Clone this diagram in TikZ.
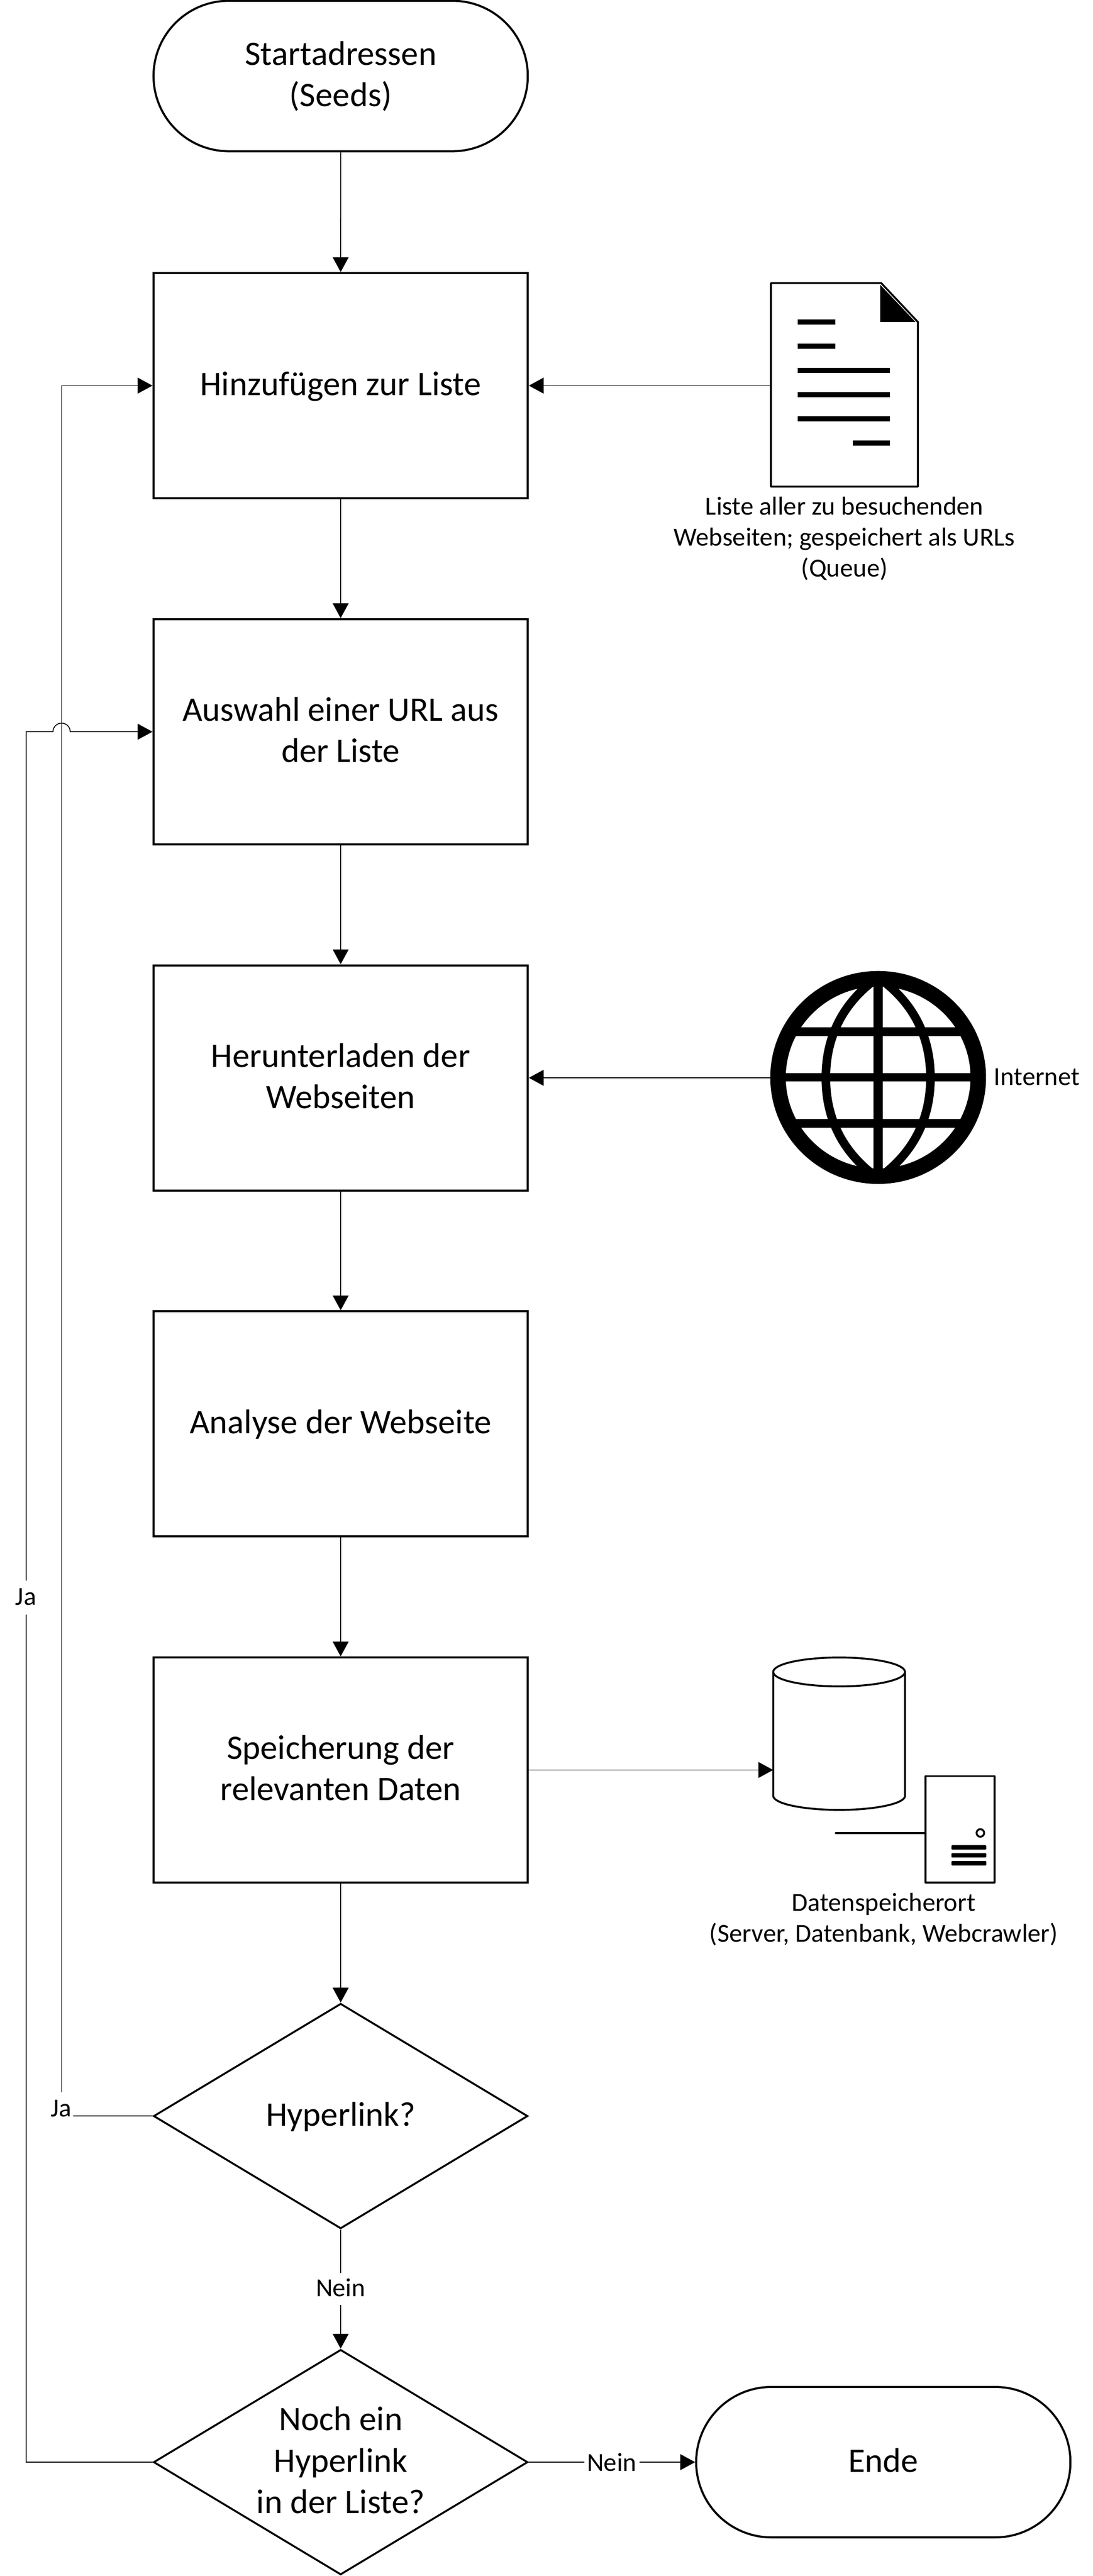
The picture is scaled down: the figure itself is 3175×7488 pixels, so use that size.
\documentclass[tikz,border=0pt]{standalone}
\usepackage{fontspec}
\setmainfont{Carlito}
\usetikzlibrary{arrows.meta,shapes.geometric,shapes.misc,calc}
\newcommand\bigst{\rule[-0.23cm]{0pt}{1.03cm}}
\newcommand\smallst{\rule[-0.24cm]{0pt}{0.92cm}}
\tikzset{
  bigtext/.style={font=\fontsize{28.4}{34.13}\selectfont,align=center,text=black,execute at end node=\bigst},
  smalltext/.style={font=\fontsize{21.5}{25.6}\selectfont,align=center,text=black,execute at end node=\smallst},
  stepbox/.style={draw=black,line width=0.06cm,fill=white,rectangle,minimum width=10.87cm,minimum height=6.54cm,inner sep=0pt,bigtext},
  term/.style={draw=black,line width=0.06cm,fill=white,rounded rectangle,minimum width=10.87cm,minimum height=4.37cm,inner sep=0pt,bigtext},
  decide/.style={draw=black,line width=0.055cm,fill=white,diamond,aspect=1.66,minimum width=10.87cm,minimum height=6.54cm,inner sep=0pt,bigtext},
  conn/.style={draw=black,line width=0.025cm},
  flow/.style={conn,-{Triangle[length=0.43cm,width=0.46cm]}},
  lab/.style={smalltext,fill=white,inner sep=0pt},
  icon/.style={draw=black,line width=0.055cm,line join=round},
  ghost/.style={rectangle,inner sep=0pt,outer sep=0pt}
}
\begin{document}
\begin{tikzpicture}[x=0.01cm,y=-0.01cm]
\useasboundingbox[fill=white] (0,0) rectangle (3175,7488);

% flow nodes
\node[term]    (start) at (990,221) {\bigst Startadressen\\(Seeds)};
\node[stepbox] (b1) at (990,1121) {\bigst Hinzufügen zur Liste};
\node[stepbox] (b2) at (990,2127) {\bigst Auswahl einer URL aus\\der Liste};
\node[stepbox] (b3) at (990,3133) {\bigst Herunterladen der\\Webseiten};
\node[stepbox] (b4) at (990,4139) {\bigst Analyse der Webseite};
\node[stepbox] (b5) at (990,5145) {\bigst Speicherung der\\relevanten Daten};
\node[decide]  (d1) at (990,6151) {\bigst Hyperlink?};
\node[decide]  (d2) at (990,7157) {\bigst Noch ein\\Hyperlink\\in der Liste?};
\node[term]    (ende) at (2567,7157) {\bigst Ende};

% document icon
\node[ghost,minimum width=4.27cm,minimum height=5.92cm] (doc) at (2454,1121) {};
\draw[icon,fill=white] (2240.5,823) -- (2561,823) -- (2667.5,936) -- (2667.5,1414.5) -- (2240.5,1414.5) -- cycle;
\fill[black] (2558,828) -- (2558,936) -- (2660.6,936) -- cycle;
\foreach \yy/\xa/\xb in {936/2318.6/2427,1007/2318.6/2427,1077/2318.6/2586.6,1147/2318.6/2586.6,1217.5/2318.6/2586.6,1288/2478/2586.6}
  \fill[black] (\xa,\yy-7.5) rectangle (\xb,\yy+7.5);
\node[smalltext,inner sep=0pt] (doclab) at (2454,1565) {\smallst Liste aller zu besuchenden\\Webseiten; gespeichert als URLs\\(Queue)};

% globe icon
\node[ghost,minimum width=6.27cm,minimum height=6.19cm] (globe) at (2552,3133) {};
\begin{scope}
  \clip (2552,3133) ellipse [x radius=300,y radius=296];
  \foreach \s in {-1,1}
    \draw[black,line width=0.25cm] (2552,2841) .. controls (2552+\s*130,2933) and (2552+\s*152,3053) .. (2552+\s*152,3133)
       .. controls (2552+\s*152,3213) and (2552+\s*130,3333) .. (2552,3425);
  \fill[black] (2539,2820) rectangle (2565,3445);
  \foreach \yy in {2998.5,3131.5,3265.5}
    \fill[black] (2230,\yy-12.5) rectangle (2875,\yy+12.5);
\end{scope}
\draw[black,line width=0.45cm] (2552,3132) ellipse [x radius=291,y radius=287];
\node[smalltext,anchor=west,inner sep=0pt] (netlab) at (2888,3132) {\smallst Internet};

% database and server icon
\node[ghost,minimum width=3.83cm,minimum height=4.43cm] (db) at (2438.5,5040) {};
\draw[icon,fill=white] (2247,4860) -- (2247,5220) arc[start angle=180,end angle=360,x radius=1.915cm,y radius=0.41cm] -- (2630,4860);
\draw[icon,fill=white] (2438.5,4860) ellipse [x radius=191.5,y radius=42];
\node[ghost,minimum width=2cm,minimum height=3.09cm] (srv) at (2790,5317.5) {};
\draw[icon] (2690,5163) rectangle (2890,5472);
\draw[icon,line cap=round] (2429,5328) -- (2690,5328);
\draw[icon] (2849,5328) circle [radius=0.11cm];
\foreach \yy in {5370,5393,5416}
  \fill[black,rounded corners=0.02cm] (2765,\yy-6.5) rectangle (2866,\yy+6.5);
\node[smalltext,inner sep=0pt] (dblab) at (2568,5578) {\smallst Datenspeicherort\\(Server, Datenbank, Webcrawler)};

% connectors
\draw[flow] (start) -- (b1);
\draw[flow] (b1) -- (b2);
\draw[flow] (b2) -- (b3);
\draw[flow] (b3) -- (b4);
\draw[flow] (b4) -- (b5);
\draw[flow] (b5) -- (d1);
\draw[flow] (d1) -- (d2);
\draw[flow] (doc.west) -- (b1.east);
\draw[flow] (globe.west) -- (b3.east);
\draw[flow] (b5.east) -- (b5.east -| db.west);

\coordinate (rail1) at (179,0);
\coordinate (rail2) at (76,0);
\coordinate (humpL) at (154,0);
\draw[flow] (d1.west) -- (d1.west -| rail1) -- (b1.west -| rail1) -- (b1.west);
\draw[flow] (d2.west) -- (d2.west -| rail2) -- (b2.west -| rail2) -- (b2.west -| humpL) arc[start angle=180,end angle=0,radius=0.25cm] -- (b2.west);
\draw[flow] (d2.east) -- (ende.west);

% connector labels
\node[lab,minimum width=0.72cm,inner ysep=0.04cm] (ja1) at (177,6131) {\smallst Ja};
\node[lab,inner ysep=0.04cm] (ja2) at (75,4644) {\smallst Ja};
\node[lab] (nein1) at (990,6654) {\smallst Nein};
\node[lab,minimum width=1.6cm] (nein2) at (1778,7161) {\smallst Nein};
\end{tikzpicture}
\end{document}
